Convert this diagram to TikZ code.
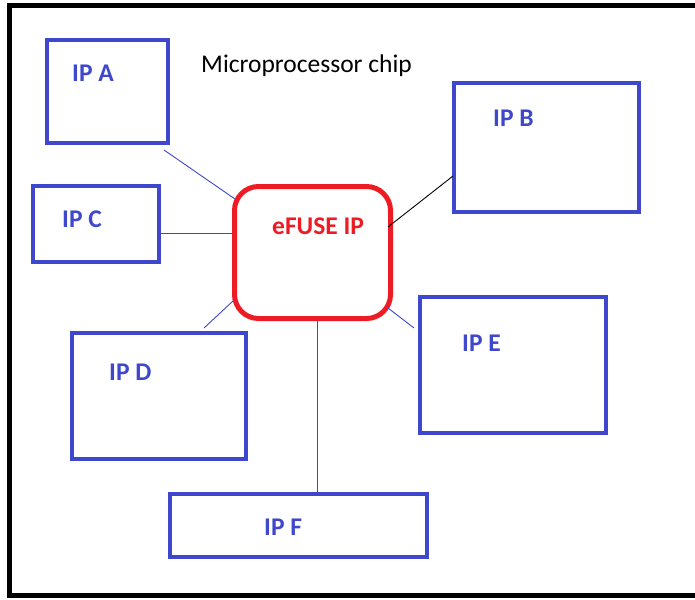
\documentclass[tikz,border=0pt]{standalone}
\usepackage{fontspec}
\setmainfont{Carlito}
\usepackage{tikz}
\usetikzlibrary{shapes,arrows,positioning,calc}
\definecolor{ipblue}{RGB}{63,72,204}
\definecolor{fusered}{RGB}{237,28,36}

\begin{document}
\begin{tikzpicture}[x=1pt, y=-1pt, font=\fontsize{25.5}{30}\selectfont]
    \tikzstyle{ipblock} = [rectangle, draw=ipblue, line width=4.5pt, inner sep=0pt, outer sep=0pt]
    \tikzstyle{fuse} = [rectangle, draw=fusered, line width=5pt, rounded corners=24pt, inner sep=0pt, outer sep=0pt, minimum width=156pt, minimum height=132pt]
    \tikzstyle{iplabel} = [anchor=base west, inner sep=0pt, text=ipblue, font=\fontsize{25.5}{30}\selectfont\bfseries]
    \tikzstyle{wire} = [draw=ipblue, line width=0.9pt]

    \useasboundingbox (0,0) rectangle (695,599);
    % chip outline
    \draw [line width=5pt] (695,5.5) -- (9.5,5.5) -- (9.5,595) -- (695,595);
    \node [anchor=base west, inner sep=0pt] (chip) at (201,72.5) {Microprocessor chip};

    \node [fuse] (efuse) at (312.5,252.5) {};
    \node [anchor=base west, inner sep=0pt, text=fusered, font=\fontsize{25.5}{30}\selectfont\bfseries] (efuselbl) at (272,234) {eFUSE IP};

    \node [ipblock, minimum width=121pt, minimum height=103pt] (ipa) at (107.5,91.5) {};
    \node [ipblock, minimum width=185pt, minimum height=129pt] (ipb) at (546.5,147.5) {};
    \node [ipblock, minimum width=126pt, minimum height=76pt] (ipc) at (96,224) {};
    \node [ipblock, minimum width=174pt, minimum height=126pt] (ipd) at (159,396) {};
    \node [ipblock, minimum width=186pt, minimum height=136pt] (ipe) at (513,365) {};
    \node [ipblock, minimum width=257pt, minimum height=63pt] (ipf) at (298.5,525.5) {};

    \node [iplabel] (lbla) at (72,81.5) {IP A};
    \node [iplabel] (lblb) at (493,126) {IP B};
    \node [iplabel] (lblc) at (62,227.5) {IP C};
    \node [iplabel] (lbld) at (109,380.5) {IP D};
    \node [iplabel] (lble) at (462,351) {IP E};
    \node [iplabel] (lblf) at (264,535) {IP F};

    \path [wire] ($(ipa.south east)+(-4,7)$) -- ($(efuse.north west)+(0.5,12.5)$);
    \path [wire] ($(ipc.east)+(2,9)$) -- ($(efuse.west)+(-2.5,-19.5)$);
    \path [draw, line width=0.9pt] ($(efuse.east)+(-2.5,-25.5)$) -- ($(ipb.west)+(-1,28.5)$);
    \path [wire] ($(ipd.north)+(45,-5)$) -- ($(efuse.south west)+(-1.5,-17.5)$);
    \path [wire] ($(efuse.south east)+(-2.5,-10.5)$) -- ($(ipe.north west)+(-6,31)$);
    \path [wire] ($(efuse.south)+(4.5,2.5)$) -- ($(ipf.north)+(18.5,-2)$);
\end{tikzpicture}
\end{document}
